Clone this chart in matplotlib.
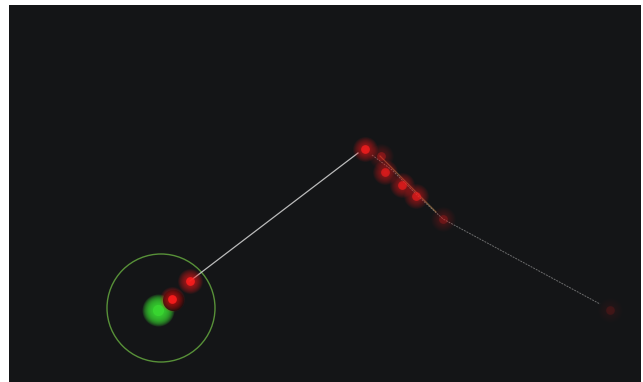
import numpy as np
import matplotlib
matplotlib.use("Agg")
import matplotlib.pyplot as plot
from matplotlib.patches import Circle

# positions in picture pixels (x right, y down)
red_x = [190, 172, 365, 381, 385, 402, 416, 443, 610]
red_y = [281, 299, 149, 156, 172, 185, 196, 219, 310]
red_strength = [1.0, 1.0, 0.85, 0.35, 0.7, 0.7, 0.65, 0.25, 0.15]

green_x = [158]
green_y = [310]

track_x = [190, 358]
track_y = [281, 153]
trail_x = [372, 392, 418, 443, 600]
trail_y = [155, 170, 196, 219, 304]
trail2_x = [380, 400, 420, 436]
trail2_y = [156, 176, 196, 212]

range_center = (161, 308)
range_radius = 54

background = "#141517"


def glow(axes, x, y, color, diameter, alpha, zorder, core=0.0):
    # soft round spot made of stacked translucent discs (diameter in pixels)
    for f in np.linspace(1.0, 0.1, 20):
        d = diameter * f / 1.389
        axes.scatter(x, y, s=d * d, color=color, alpha=alpha,
                     linewidths=0, zorder=zorder)
    if core > 0:
        d = diameter * 0.35 / 1.389
        axes.scatter(x, y, s=d * d, color=color, alpha=core,
                     linewidths=0, zorder=zorder)


figure = plot.figure(figsize=(6.43, 3.82), dpi=100)
figure.patch.set_facecolor("white")
axes = figure.add_axes([9 / 643, 0, 632 / 643, 377 / 382])
axes.set_facecolor(background)
axes.set_xlim(9, 641)
axes.set_ylim(382, 5)
axes.set_axis_off()
axes.add_patch(plot.Rectangle((9, 5), 632, 377, color=background, zorder=0))

# range ring
axes.add_patch(Circle(range_center, range_radius, fill=False, edgecolor="#5f9e3c",
                      linewidth=1.0, alpha=0.9, zorder=2))

# green glow
glow(axes, green_x, green_y, "#3ad832", 32, 0.15, 3, core=0.8)

# shadow around the red mark over the green one
axes.scatter([red_x[1] + 1], [red_y[1] + 1], s=230, color="#0b0b0c", alpha=0.95,
             linewidths=0, zorder=4)

# lines
axes.plot(track_x, track_y, color="#d8d8d8", linewidth=0.9, alpha=0.85, zorder=5)
axes.plot(trail_x, trail_y, color="#a8a8a8", linewidth=0.7, alpha=0.6, linestyle=(0, (2, 1)), zorder=5)
axes.plot(trail2_x, trail2_y, color="#c08a50", linewidth=0.9, alpha=0.55, zorder=5)

# red glows
for x, y, k in zip(red_x, red_y, red_strength):
    glow(axes, [x], [y], "#ff1e1e", 25, 0.06 * k, 6, core=0.85 * k)

figure.savefig("out.png", dpi=100, facecolor="white")
